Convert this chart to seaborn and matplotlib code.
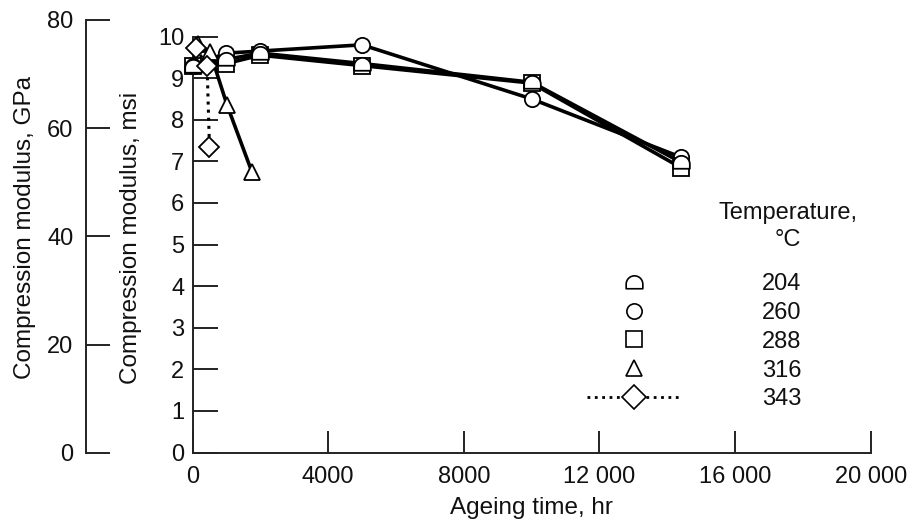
import numpy as np
import matplotlib
matplotlib.use("Agg")
import matplotlib.pyplot as plt
from matplotlib.path import Path
from matplotlib.lines import Line2D
import seaborn as sns

# ---------------- data ----------------
temps = ["204", "260", "288", "316", "343"]

t204_x = [0, 1000, 2000, 5000, 10000, 14400]
t204_y = [9.3, 9.45, 9.6, 9.35, 8.9, 6.98]

t260_x = [0, 1000, 2000, 5000, 10000, 14400]
t260_y = [9.3, 9.6, 9.65, 9.8, 8.5, 7.1]

t288_x = [0, 1000, 2000, 5000, 10000, 14400]
t288_y = [9.3, 9.35, 9.55, 9.3, 8.88, 6.85]

t316_x = [150, 520, 1020, 1750]
t316_y = [9.82, 9.62, 8.35, 6.75]

t343_x = [100, 430, 500]
t343_y = [9.72, 9.3, 7.35]

x_ticks = [0, 4000, 8000, 12000, 16000, 20000]
x_tick_labels = ["0", "4000", "8000", "12 000", "16 000", "20 000"]
msi_ticks = [0, 1, 2, 3, 4, 5, 6, 7, 8, 9, 10]
gpa_ticks = [0, 20, 40, 60, 80]

# ---------------- style ----------------
sns.set_style("ticks")
plt.rcParams["font.family"] = ["Liberation Sans", "DejaVu Sans"]
FS_TICK = 17
FS_LAB = 17.5

# dome (half-circle) marker
theta = np.linspace(0, np.pi, 25)
verts = [(np.cos(t), np.sin(t) - 0.2) for t in theta]
verts += [(-1, -0.75), (1, -0.75), (1, -0.2)]
dome = Path(verts)

W, H = 916, 524
fig = plt.figure(figsize=(W / 100, H / 100), dpi=100)
fig.patch.set_facecolor("white")

x0, x1 = 192.5, 870.7
y0, y1 = 452.5, 36.5
ax = fig.add_axes([x0 / W, 1 - y0 / H, (x1 - x0) / W, (y0 - y1) / H])

series = {
    "204": (t204_x, t204_y, dome, "-", 12),
    "260": (t260_x, t260_y, "o", "-", 11),
    "288": (t288_x, t288_y, "s", "-", 11),
    "316": (t316_x, t316_y, "^", "-", 12),
    "343": (t343_x, t343_y, "D", ":", 10),
}
draw_order = ["288", "260", "204", "316", "343"]
for i, key in enumerate(draw_order):
    xs, ys, mk, ls, ms = series[key]
    sns.lineplot(x=xs, y=ys, ax=ax, color="black", lw=2.6 if ls == "-" else 2.2,
                 linestyle=ls, marker=mk, markersize=ms, markerfacecolor="white",
                 markeredgecolor="black", markeredgewidth=1.3, clip_on=False,
                 estimator=None, sort=False, legend=False, zorder=3 + i)

ax.set_xlim(0, 20000)
ax.set_ylim(0, 10)
ax.set_xticks(x_ticks)
ax.set_xticklabels(x_tick_labels)
ax.set_yticks(msi_ticks)
for s in ["top", "right"]:
    ax.spines[s].set_visible(False)
for s in ["left", "bottom"]:
    ax.spines[s].set_linewidth(1.4)
    ax.spines[s].set_color("#222222")
ax.tick_params(axis="both", direction="in", width=1.4, color="#222222",
               labelsize=FS_TICK, labelcolor="#111111")
ax.tick_params(axis="y", length=18, pad=6)
ax.tick_params(axis="x", length=16, pad=10)
ax.set_facecolor("white")

ax.set_xlabel("Ageing time, hr", fontsize=FS_LAB, color="#111111", labelpad=6)
ax.set_ylabel("Compression modulus, msi", fontsize=FS_LAB, color="#111111")
ax.yaxis.label.set_va("center")
ax.yaxis.set_label_coords(131 / W, 1 - 238 / H, transform=fig.transFigure)

# outer GPa axis
gx = 86
gy0, gy1 = 452.7, 20
ax2 = fig.add_axes([gx / W, 1 - gy0 / H, 0.001, (gy0 - gy1) / H])
ax2.set_ylim(0, 80)
ax2.set_yticks(gpa_ticks)
ax2.set_xticks([])
for s in ["top", "right", "bottom"]:
    ax2.spines[s].set_visible(False)
ax2.spines["left"].set_linewidth(1.4)
ax2.spines["left"].set_color("#222222")
ax2.patch.set_alpha(0)
ax2.tick_params(axis="y", direction="in", length=17, width=1.4, color="#222222",
                labelsize=FS_TICK, labelcolor="#111111", pad=9)
ax2.set_ylabel("Compression modulus, GPa", fontsize=FS_LAB, color="#111111")
ax2.yaxis.label.set_va("center")
ax2.yaxis.set_label_coords(25 / W, 1 - 227 / H, transform=fig.transFigure)

# legend
handles = []
for key in temps:
    xs, ys, mk, ls, ms = series[key]
    if ls == ":":
        h = Line2D([], [], color="black", linestyle=":", lw=2.0, marker=mk,
                   markersize=ms + 2, markerfacecolor="white", markeredgecolor="black",
                   markeredgewidth=1.2)
    else:
        h = Line2D([], [], linestyle="none", marker=mk, markersize=ms,
                   markerfacecolor="white", markeredgecolor="black", markeredgewidth=1.2)
    handles.append(h)
leg = ax.legend(handles, temps, loc="upper left",
                bbox_to_anchor=(587 / W, 1 - 273 / H), bbox_transform=fig.transFigure,
                frameon=False, fontsize=FS_TICK, handlelength=4.0, handletextpad=3.4,
                labelspacing=0.29, borderpad=0, borderaxespad=0)
for t in leg.get_texts():
    t.set_color("#111111")

fig.text(788 / W, 1 - 213 / H, "Temperature,", ha="center", va="center",
         fontsize=FS_TICK, color="#111111")
fig.text(788 / W, 1 - 240 / H, "\u00b0C", ha="center", va="center",
         fontsize=FS_TICK, color="#111111")

fig.savefig("out.png", dpi=100, facecolor="white")
